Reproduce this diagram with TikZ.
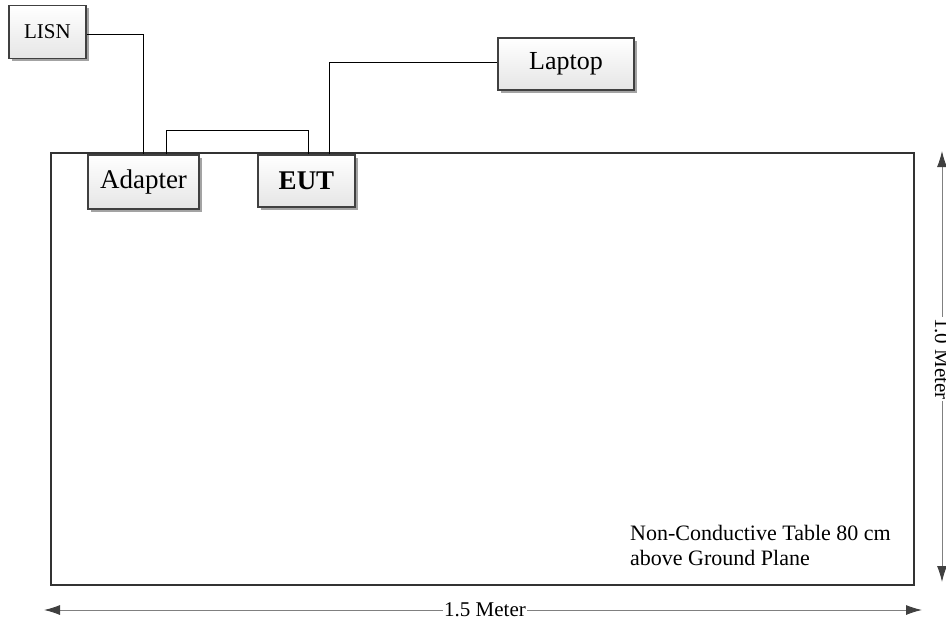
\documentclass[tikz,border=0pt]{standalone}
\usepackage{fontspec}
\setmainfont{Liberation Serif}
\usetikzlibrary{shadows,arrows.meta}
\begin{document}
\begin{tikzpicture}[x=1pt,y=-1pt,
  devbox/.style={draw=black!75,line width=1.6pt,top color=white,bottom color=black!10,
    drop shadow={shadow xshift=2.5pt,shadow yshift=-2.5pt,fill=black!45,opacity=0.8},
    inner sep=0pt,align=center},
  wire/.style={draw=black,line width=0.7pt},
  tbl/.style={draw=black!80,line width=2.6pt},
  dim/.style={draw=black!50,line width=0.9pt,{Latex[length=16pt,width=10pt,black!75]}-{Latex[length=16pt,width=10pt,black!75]}},
  dimlabel/.style={fill=white,inner sep=1pt,font=\fontsize{21}{24}\selectfont}
]
\useasboundingbox (0,0) rectangle (946,624);
% table
\draw[tbl] (51,153) rectangle (914,585);
\node[anchor=base west,align=left,inner sep=0pt,font=\fontsize{22}{25}\selectfont] (note) at (630,565)
  {Non-Conductive Table 80 cm\\above Ground Plane};
% devices
\node[devbox,minimum width=77pt,minimum height=53pt,font=\fontsize{21}{24}\selectfont] (LISN) at (47.5,32) {LISN};
\node[devbox,minimum width=111pt,minimum height=54pt,font=\fontsize{27}{30}\selectfont] (Adapter) at (143.5,182) {Adapter};
\node[devbox,minimum width=97pt,minimum height=52pt,font=\fontsize{27}{30}\selectfont\bfseries] (EUT) at (306.5,181) {EUT};
\node[devbox,minimum width=136pt,minimum height=52pt,font=\fontsize{26}{30}\selectfont] (Laptop) at (566,64) {Laptop};
% wires
\draw[wire] ([yshift=-2pt]LISN.east) -| (Adapter.north);
\draw[wire] ([xshift=22.5pt]Adapter.north) -- ++(0,-24) -| ([xshift=1.5pt]EUT.north);
\draw[wire] ([xshift=22.5pt]EUT.north) |- ([yshift=2pt]Laptop.west);
% dimensions
\coordinate (hL) at (44,610);
\coordinate (hR) at (922,610);
\draw[dim] (hL) -- (hR);
\node[dimlabel] (hlab) at (485,610) {1.5 Meter};
\coordinate (vT) at (942,151);
\coordinate (vB) at (942,582);
\draw[dim] (vT) -- (vB);
\node[dimlabel,rotate=-90] (vlab) at (942,359) {1.0 Meter};
\end{tikzpicture}
\end{document}
